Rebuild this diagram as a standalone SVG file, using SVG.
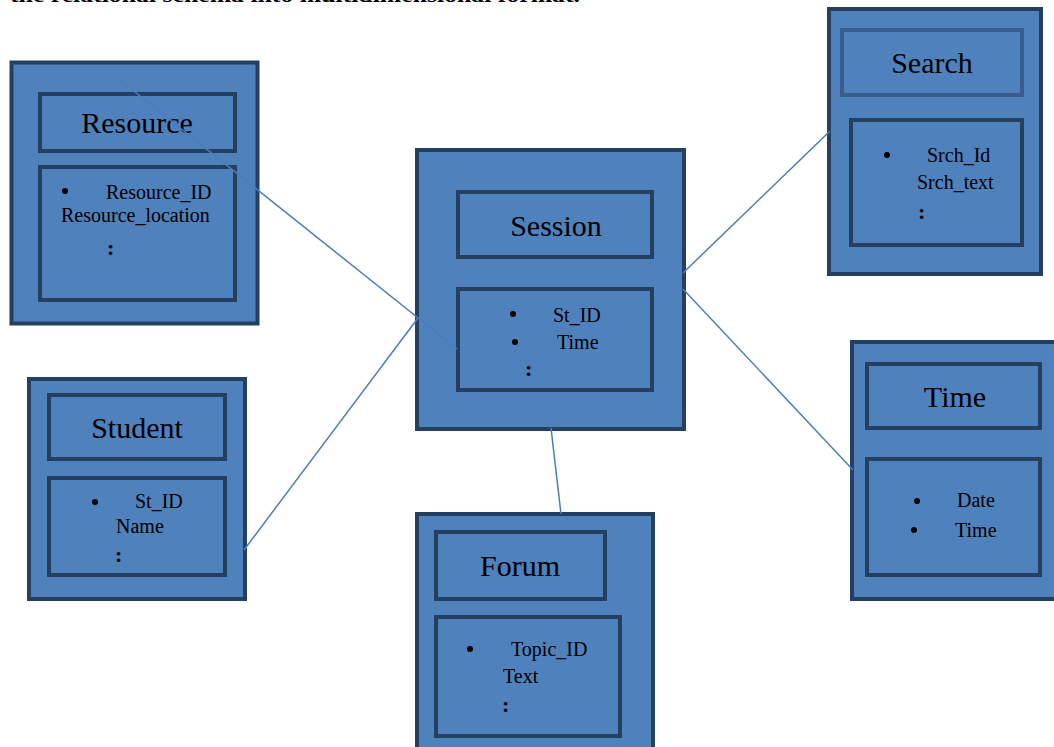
<svg xmlns="http://www.w3.org/2000/svg" width="1054" height="747" viewBox="0 0 1054 747">
<style>
.outer{fill:#4f81bd;stroke:#243f60;stroke-width:4}
.inner{fill:#4f81bd;stroke:#243f60;stroke-width:4}
.innerL{fill:#4f81bd;stroke:#385d8a;stroke-width:4}
.title{font-family:"Liberation Serif",serif;font-size:30px;fill:#000;text-anchor:middle}
.attr{font-family:"Liberation Serif",serif;font-size:20px;fill:#000}
.colon{font-family:"Liberation Serif",serif;font-size:22px;font-weight:bold;fill:#000}
.conn{stroke:#4a7ebb;stroke-width:1.5;fill:none}
.top{font-family:"Liberation Serif",serif;font-size:20px;font-weight:bold;fill:#000}
</style>
<rect width="1054" height="747" fill="#fff"/>
<text class="top" x="10" y="2" textLength="570" lengthAdjust="spacingAndGlyphs">the relational schema into multidimensional format.</text>

<g id="resource">
<rect class="outer" x="11.5" y="62.5" width="246" height="261"/>
<rect class="inner" x="40" y="94" width="195" height="57"/>
<text class="title" x="137" y="133">Resource</text>
<rect class="inner" x="40" y="167" width="195" height="133"/>
<circle cx="65" cy="191" r="3"/>
<text class="attr" x="106" y="199">Resource_ID</text>
<text class="attr" x="61" y="222">Resource_location</text>
<text class="colon" x="107" y="255">:</text>
</g>

<g id="session">
<rect class="outer" x="417" y="150" width="267" height="279"/>
<rect class="inner" x="458" y="192" width="194" height="65"/>
<text class="title" x="556" y="236">Session</text>
<rect class="inner" x="458" y="289" width="194" height="101"/>
<circle cx="513" cy="314" r="3"/>
<text class="attr" x="553" y="322">St_ID</text>
<circle cx="515" cy="342" r="3"/>
<text class="attr" x="557" y="349">Time</text>
<text class="colon" x="525" y="376" font-size="17">:</text>
</g>

<g id="search">
<rect class="outer" x="829" y="9" width="212" height="265"/>
<rect class="innerL" x="842" y="30" width="180" height="65"/>
<text class="title" x="932" y="73">Search</text>
<rect class="inner" x="851" y="120" width="171" height="125"/>
<circle cx="887" cy="155" r="3"/>
<text class="attr" x="927" y="162">Srch_Id</text>
<text class="attr" x="917" y="189">Srch_text</text>
<text class="colon" x="918" y="219">:</text>
</g>

<g id="student">
<rect class="outer" x="29" y="379" width="216" height="220"/>
<rect class="inner" x="49" y="395" width="176" height="64"/>
<text class="title" x="137" y="438">Student</text>
<rect class="inner" x="49" y="478" width="176" height="97"/>
<circle cx="95" cy="502" r="3"/>
<text class="attr" x="135" y="508">St_ID</text>
<text class="attr" x="116" y="533">Name</text>
<text class="colon" x="115" y="562">:</text>
</g>

<g id="forum">
<rect class="outer" x="417" y="514" width="236" height="240"/>
<rect class="inner" x="436" y="532" width="169" height="67"/>
<text class="title" x="520" y="576">Forum</text>
<rect class="inner" x="436" y="617" width="184" height="119"/>
<circle cx="470" cy="649" r="3"/>
<text class="attr" x="511" y="656">Topic_ID</text>
<text class="attr" x="503" y="683">Text</text>
<text class="colon" x="502" y="712">:</text>
</g>

<g id="time">
<rect class="outer" x="852" y="342" width="210" height="257"/>
<rect class="inner" x="867" y="364" width="173" height="64"/>
<text class="title" x="955" y="407">Time</text>
<rect class="inner" x="867" y="459" width="173" height="116"/>
<circle cx="917" cy="501" r="3"/>
<text class="attr" x="957" y="507">Date</text>
<circle cx="914" cy="530" r="3"/>
<text class="attr" x="955" y="537">Time</text>
</g>

<g id="connectors">
<line class="conn" x1="120" y1="80" x2="457" y2="349"/>
<line class="conn" x1="244" y1="550" x2="418" y2="318"/>
<line class="conn" x1="683" y1="273" x2="830" y2="131"/>
<line class="conn" x1="683" y1="289" x2="853" y2="470"/>
<line class="conn" x1="551" y1="428" x2="561" y2="514"/>
</g>
</svg>
